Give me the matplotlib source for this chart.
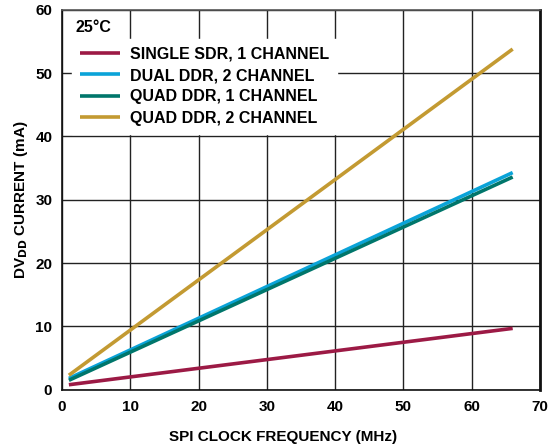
import matplotlib
matplotlib.use("Agg")
import matplotlib.pyplot as plt

plt.rcParams["font.family"] = ["Liberation Sans", "DejaVu Sans"]
plt.rcParams["font.weight"] = "bold"

# SPI clock frequency (MHz) endpoints, current (mA)
freq = [1, 66]
single_sdr_1ch = [0.8, 9.7]
dual_ddr_2ch = [1.8, 34.3]
quad_ddr_1ch = [1.5, 33.6]
quad_ddr_2ch = [2.3, 53.8]

labels = ["SINGLE SDR, 1 CHANNEL", "DUAL DDR, 2 CHANNEL",
          "QUAD DDR, 1 CHANNEL", "QUAD DDR, 2 CHANNEL"]
colors = ["#9C1A45", "#0AA3D8", "#00766B", "#C39A32"]
series = [single_sdr_1ch, dual_ddr_2ch, quad_ddr_1ch, quad_ddr_2ch]

fig = plt.figure(figsize=(5.59, 4.46), dpi=100)
ax = fig.add_axes([0.111, 0.126, 0.855, 0.852])

for ys, lab, col in zip(series, labels, colors):
    ax.plot(freq, ys, color=col, lw=2.6, label=lab, solid_capstyle="butt")

ax.set_xlim(0, 70)
ax.set_ylim(0, 60)
ax.set_xticks(range(0, 71, 10))
ax.set_yticks(range(0, 61, 10))
ax.grid(True, color="#222222", lw=1.0)
ax.set_axisbelow(True)
ax.tick_params(length=0, labelsize=11, pad=7)
for lbl in ax.get_xticklabels() + ax.get_yticklabels():
    lbl.set_fontweight("bold")
for s in ax.spines.values():
    s.set_color("#111111")
    s.set_linewidth(1.2)
ax.spines["top"].set_color("#555555")
ax.spines["right"].set_linewidth(2.0)

ax.set_xlabel("SPI CLOCK FREQUENCY (MHz)", fontsize=11, fontweight="bold", labelpad=10)
ax.xaxis.set_label_coords(0.462, -0.105)
ax.set_ylabel("DV$_{\\mathbf{DD}}$ CURRENT (mA)", fontsize=11, fontweight="bold")
ax.yaxis.set_label_coords(-0.068, 0.5)

ax.text(0.029, 0.953, "25°C", transform=ax.transAxes, fontsize=11.5, fontweight="bold",
        va="center", ha="left", zorder=5)

leg = ax.legend(loc="upper left", bbox_to_anchor=(0.021, 0.924), frameon=True,
                fontsize=11.5, handlelength=2.5, handletextpad=0.6, labelspacing=0.4,
                borderaxespad=0, borderpad=0.5, fancybox=False)
leg.get_frame().set_edgecolor("white")
leg.get_frame().set_facecolor("white")
leg.get_frame().set_alpha(1.0)
for t in leg.get_texts():
    t.set_fontweight("bold")

fig.savefig("out.png", dpi=100)
